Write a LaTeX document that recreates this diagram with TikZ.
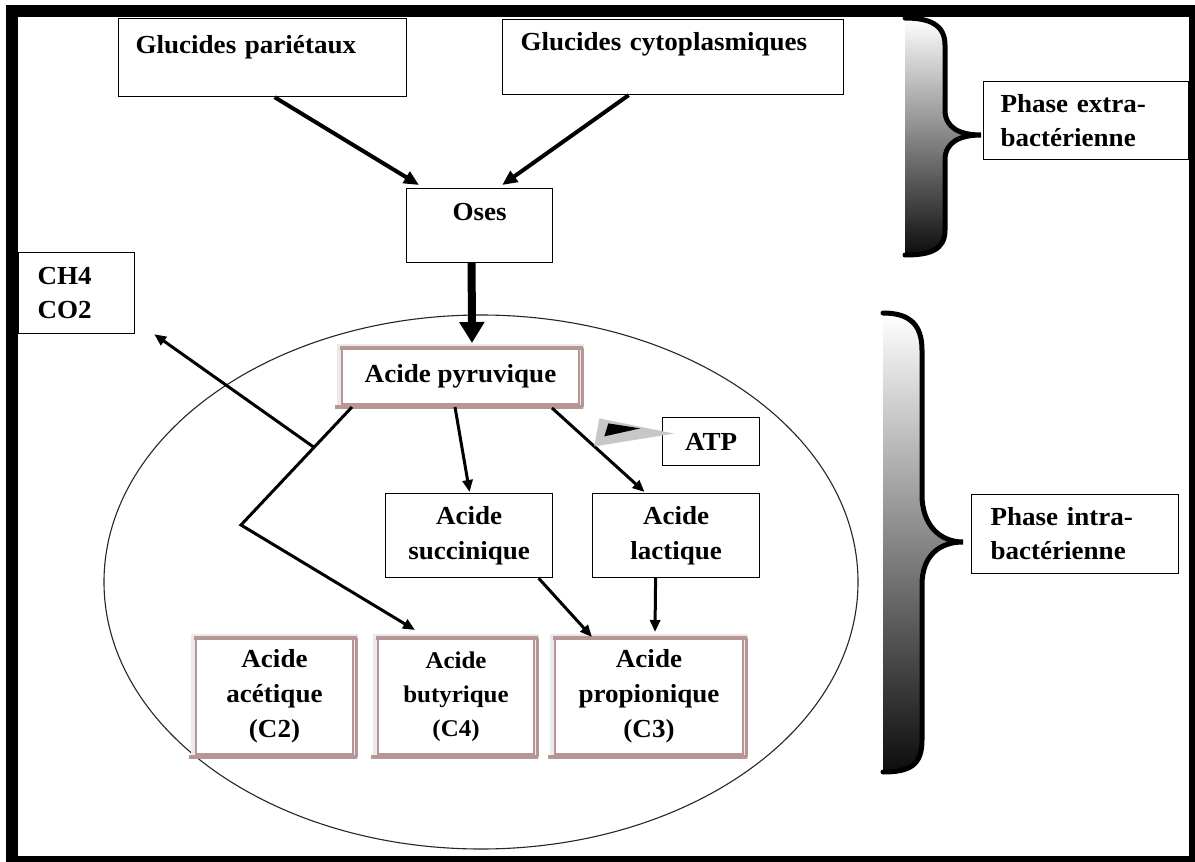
\documentclass[tikz,border=0pt]{standalone}
\usepackage{fontspec}
\setmainfont{Liberation Serif}[FakeStretch=1.04]
\usetikzlibrary{arrows.meta,calc}
\definecolor{rb}{RGB}{184,150,150}
\definecolor{glow}{RGB}{234,234,234}
\newcommand\acidframe[1]{%
  \draw[rb,line width=4pt] ([xshift=-1pt]#1.north west) -- ([xshift=3pt]#1.north east);
  \draw[rb,line width=4pt] ([xshift=-6pt,yshift=-2pt]#1.south west) -- ([xshift=3pt,yshift=-2pt]#1.south east);
  \draw[rb,line width=3pt] ([xshift=2pt]#1.north east) -- ([xshift=2pt,yshift=-2pt]#1.south east);
}
\tikzset{
  plainbox/.style={draw=black, line width=1.2pt, fill=white, inner sep=0pt,
    font=\fontsize{26}{35}\selectfont\bfseries},
  acid/.style={plainbox, draw=rb, line width=2pt, preaction={draw=glow, line width=10pt}, align=center},
  arr/.style={line width=3pt, -{Triangle[length=12pt,width=10pt]}},
  bigarr/.style={line width=4pt, -{Triangle[length=15pt,width=13pt]}},
  fatarr/.style={line width=8pt, -{Triangle[length=21pt,width=24pt]}},
  bracefill/.style={top color=white, middle color=black!35, bottom color=black!95},
  bracestroke/.style={line width=5pt, line cap=round},
}
\begin{document}
\begin{tikzpicture}[x=1pt,y=-1pt]
\useasboundingbox (0,0) rectangle (1195,862);
\fill[white] (0,0) rectangle (1195,862);
% frame
\fill[black] (6,5) rectangle (1195,862);
\fill[white] (18,17) rectangle (1189,856);
% cell
\draw[black!85, line width=1.1pt] (481,582) ellipse [x radius=377pt, y radius=267pt];
% braces
\shade[bracefill] (905,18) .. controls (930,18) and (945,25) .. (945,45) -- (945,110)
  .. controls (945,128) and (960,135) .. (981,135) .. controls (960,135) and (945,142) .. (945,160)
  -- (945,230) .. controls (945,250) and (930,255) .. (905,255) -- cycle;
\draw[bracestroke] (905,18) .. controls (930,18) and (945,25) .. (945,45) -- (945,110)
  .. controls (945,128) and (960,135) .. (981,135) .. controls (960,135) and (945,142) .. (945,160)
  -- (945,230) .. controls (945,250) and (930,255) .. (905,255);
\shade[bracefill] (883,313) .. controls (910,313) and (922,325) .. (922,350) -- (922,495)
  .. controls (922,525) and (940,542) .. (963,542) .. controls (940,542) and (922,555) .. (922,585)
  -- (922,740) .. controls (922,765) and (910,772) .. (883,772) -- cycle;
\draw[bracestroke] (883,313) .. controls (910,313) and (922,325) .. (922,350) -- (922,495)
  .. controls (922,525) and (940,542) .. (963,542) .. controls (940,542) and (922,555) .. (922,585)
  -- (922,740) .. controls (922,765) and (910,772) .. (883,772);
% nodes
\node[plainbox, anchor=north west, text width=254pt, inner xsep=17pt, align=left,
  text height=35pt, text depth=43pt] (gp) at (118,18) {Glucides pariétaux};
\node[plainbox, anchor=north west, text width=305pt, inner xsep=18pt, align=left,
  text height=31pt, text depth=44pt] (cy) at (502,19) {Glucides cytoplasmiques};
\node[plainbox, anchor=north west, minimum width=146pt, text height=32pt, text depth=42pt] (os) at (406,188) {Oses};
\node[plainbox, anchor=north west, text width=78pt, inner xsep=19pt, align=left,
  minimum height=81pt, font=\fontsize{26}{34}\selectfont\bfseries] (ch) at (18,252) {CH4\\CO2};
\node[plainbox, anchor=north west, text width=171pt, inner xsep=17pt, align=left,
  minimum height=78pt, font=\fontsize{26}{34}\selectfont\bfseries] (pe) at (983,81) {Phase extra-\\bactérienne};
\node[plainbox, anchor=north west, text width=169pt, inner xsep=19pt, align=left,
  minimum height=79pt, font=\fontsize{26}{34}\selectfont\bfseries] (pi) at (971,494) {Phase intra-\\bactérienne};
\node[acid, anchor=north west, minimum width=237pt, minimum height=55pt] (pyr) at (341,348) {Acide pyruvique};
\node[plainbox, anchor=north west, minimum width=167pt, minimum height=84pt, align=center] (su) at (385,493) {Acide\\succinique};
\node[plainbox, anchor=north west, minimum width=167pt, minimum height=84pt, align=center] (la) at (592,493) {Acide\\lactique};
\node[plainbox, anchor=north west, minimum width=97pt, minimum height=48pt] (atp) at (662,417) {ATP};
\node[acid, anchor=north west, minimum width=157pt, minimum height=115pt] (ac) at (195,638) {Acide\\acétique\\(C2)};
\node[acid, anchor=north west, minimum width=156pt, minimum height=115pt,
  font=\fontsize{24}{34}\selectfont\bfseries] (bu) at (377,638) {Acide\\butyrique\\(C4)};
\node[acid, anchor=north west, minimum width=188pt, minimum height=115pt] (pr) at (554,638) {Acide\\propionique\\(C3)};
\acidframe{pyr}
\acidframe{ac}
\acidframe{bu}
\acidframe{pr}
% connectors
\draw[bigarr] ([xshift=12pt]gp.south) -- ([xshift=13pt,yshift=3pt]os.north west);
\draw[bigarr] ([xshift=-44.5pt]cy.south) -- ([xshift=-51pt,yshift=3pt]os.north east);
\draw[fatarr] ([xshift=-8pt]os.south) -- ([xshift=11.5pt,yshift=5pt]pyr.north);
\coordinate (pa) at ([xshift=11pt,yshift=-2pt]pyr.south west);
\coordinate (bend) at (241,525);
\coordinate (split) at ($(pa)!0.342!(bend)$);
\draw[arr] (pa) -- (bend) -- ([xshift=38pt,yshift=8pt]bu.north west);
\draw[arr] (split) -- ([xshift=19pt]ch.south east);
\draw[arr] ([xshift=-5.5pt,yshift=-2pt]pyr.south) -- ([xshift=0.5pt,yshift=1pt]su.north);
\coordinate (ls) at ([xshift=-28pt,yshift=-3pt]pyr.south east);
\coordinate (le) at ([xshift=-31.5pt,yshift=1pt]la.north);
\draw[arr] (ls) -- (le);
\draw[arr] ([xshift=69.5pt]su.south) -- ([xshift=38pt,yshift=1pt]pr.north west);
\draw[arr] ([xshift=-20.5pt]la.south) -- ([xshift=101pt,yshift=6pt]pr.north west);
% ATP arrow
\coordinate (atpj) at ($(ls)!0.457!(le)$);
\fill[black!22] (atpj) -- ($(atpj)+(5,-28)$) -- ([xshift=12pt,yshift=8pt]atp.west) -- cycle;
\fill[black] ($(atpj)+(10,-10)$) -- ($(atpj)+(14,-23)$) -- ($(atpj)+(46,-18)$) -- cycle;
\end{tikzpicture}
\end{document}
